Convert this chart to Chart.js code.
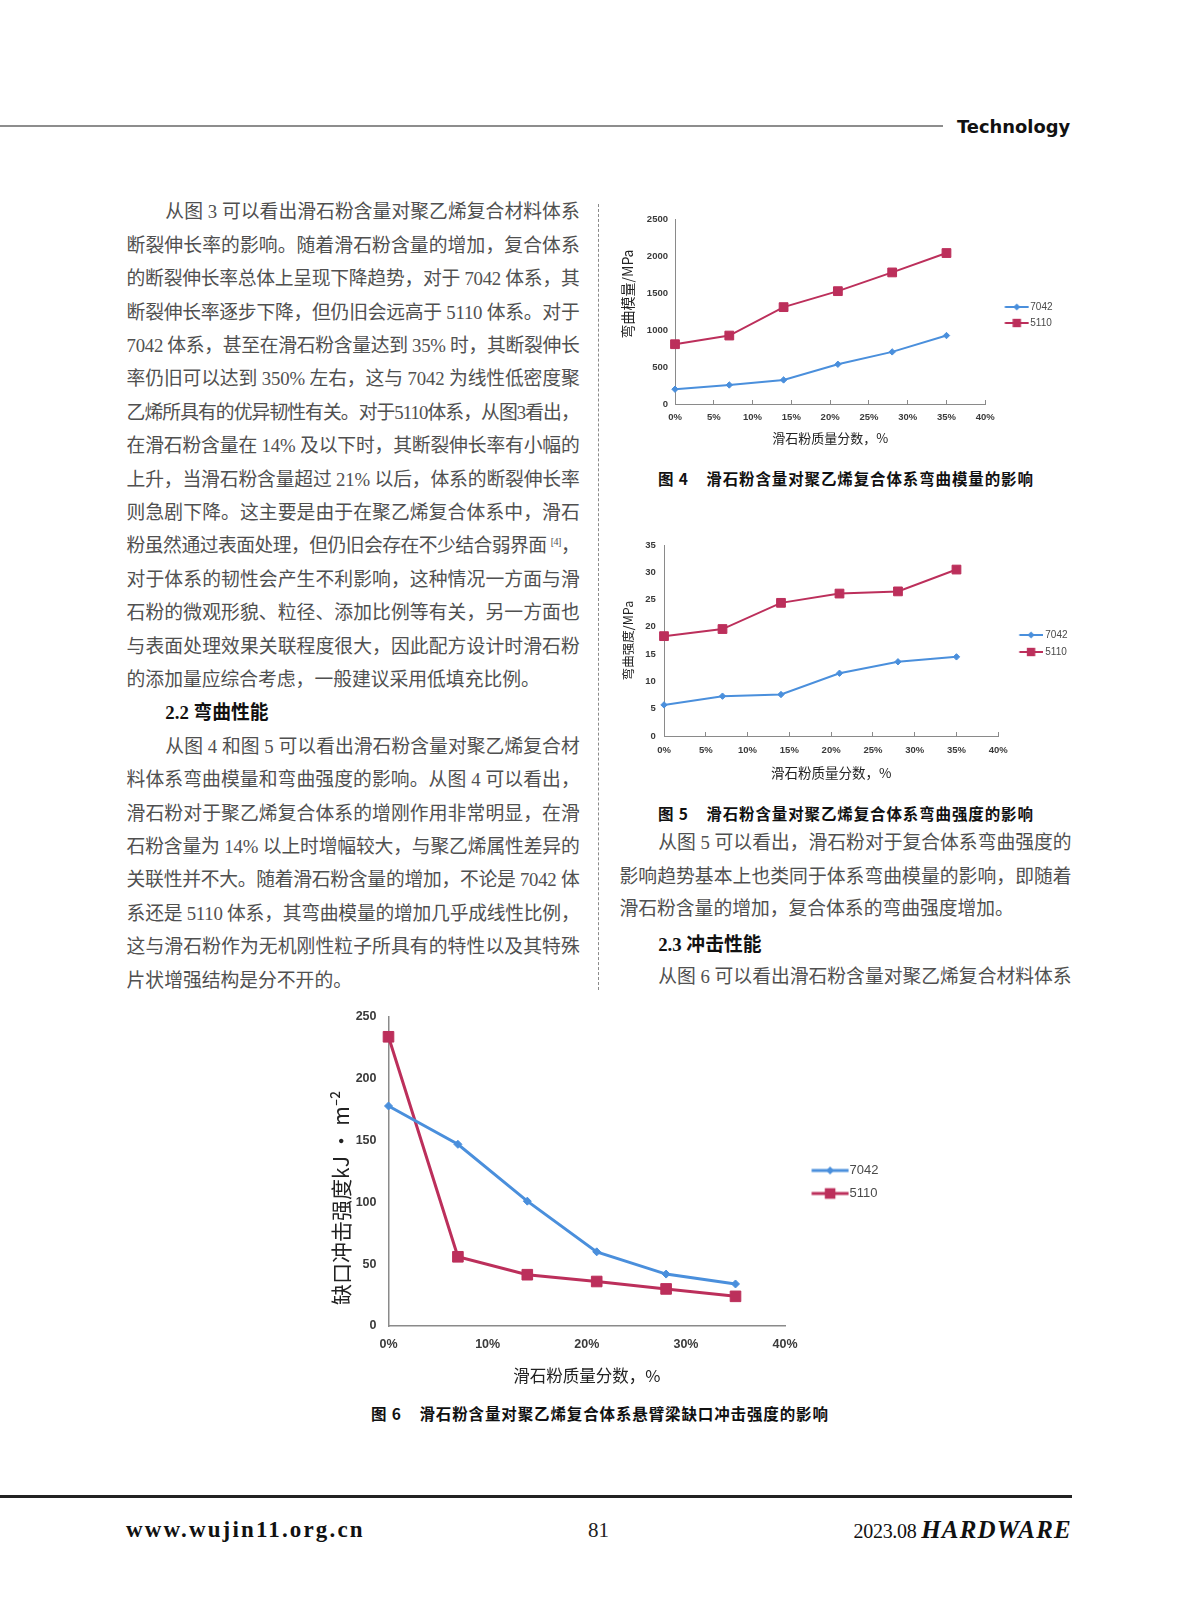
<!DOCTYPE html>
<html><head><meta charset="utf-8">
<script src="https://cdn.jsdelivr.net/npm/chart.js@4.4.0/dist/chart.umd.min.js"></script>
<style>
html,body{margin:0;padding:0;background:#fff;}
#page{position:relative;width:1187px;height:1600px;overflow:hidden;background:#fff;}
.ln{position:absolute;height:26px;line-height:26px;white-space:nowrap;font-family:"Liberation Serif","Noto Sans CJK SC",serif;font-size:18.8px;color:#505050;}
.ln span{display:inline-block;white-space:nowrap;}
.ln sup{font-size:10px;line-height:0;vertical-align:7px;}
.head{font-weight:bold;color:#111;}
.cap{position:absolute;height:22px;line-height:22px;white-space:nowrap;font-family:"Noto Sans CJK SC",sans-serif;font-weight:bold;font-size:15.5px;color:#111;}
canvas{position:absolute;}
</style></head>
<body><div id="page">
<div style="position:absolute;left:0;top:125px;width:943px;height:2px;background:#8d8d8d;"></div>
<div style="position:absolute;left:957px;top:114px;height:26px;line-height:26px;font-family:'DejaVu Sans';font-weight:bold;font-size:17.9px;color:#111;">Technology</div>
<div style="position:absolute;left:598px;top:204px;height:786px;border-left:1px dashed #8a8a8a;"></div>
<div id="textLayer"></div>
<canvas id="c4" width="465" height="250" style="left:610px;top:205px;"></canvas>
<canvas id="c5" width="470" height="260" style="left:610px;top:530px;"></canvas>
<canvas id="c6" width="600" height="400" style="left:310px;top:990px;"></canvas>
<div class="cap" id="cap4" style="left:658px;top:467px;"><span>图 4&nbsp;&nbsp;&nbsp;&nbsp;滑石粉含量对聚乙烯复合体系弯曲模量的影响</span></div>
<div class="cap" id="cap5" style="left:658px;top:802px;"><span>图 5&nbsp;&nbsp;&nbsp;&nbsp;滑石粉含量对聚乙烯复合体系弯曲强度的影响</span></div>
<div class="cap" id="cap6" style="left:371px;top:1402px;"><span>图 6&nbsp;&nbsp;&nbsp;&nbsp;滑石粉含量对聚乙烯复合体系悬臂梁缺口冲击强度的影响</span></div>
<div style="position:absolute;left:0;top:1495px;width:1072px;height:3px;background:#222;"></div>
<div style="position:absolute;left:126px;top:1515px;height:30px;line-height:30px;font-family:'Liberation Serif';font-weight:bold;font-size:23px;letter-spacing:2.15px;color:#111;">www.wujin11.org.cn</div>
<div style="position:absolute;left:588px;top:1515px;height:30px;line-height:30px;font-family:'Liberation Serif';font-size:21px;color:#222;">81</div>
<div style="position:absolute;right:115px;top:1515px;height:30px;line-height:30px;font-family:'Liberation Serif';color:#111;white-space:nowrap;"><span style="font-size:20px;letter-spacing:-0.3px;">2023.08 </span><span style="font-size:25px;font-weight:bold;font-style:italic;letter-spacing:1.2px;">HARDWARE</span></div>
</div>
<script>
// ---------------- data ----------------
const xPercent = [0, 7, 14, 21, 28, 35];
const seriesNames = ['7042', '5110'];
const modulus7042 = [200, 257, 325, 537, 704, 925];
const modulus5110 = [808, 925, 1309, 1525, 1778, 2040];
const strength7042 = [5.7, 7.3, 7.6, 11.5, 13.6, 14.5];
const strength5110 = [18.3, 19.6, 24.4, 26.1, 26.5, 30.5];
const impact7042 = [178, 147, 101, 60, 42, 34];
const impact5110 = [234, 56, 41.5, 36, 30, 24];

// ---------------- text ----------------
const leftLines = [
 ['从图 3 可以看出滑石粉含量对聚乙烯复合材料体系','i'],
 ['断裂伸长率的影响。随着滑石粉含量的增加，复合体系',''],
 ['的断裂伸长率总体上呈现下降趋势，对于 7042 体系，其',''],
 ['断裂伸长率逐步下降，但仍旧会远高于 5110 体系。对于',''],
 ['7042 体系，甚至在滑石粉含量达到 35% 时，其断裂伸长',''],
 ['率仍旧可以达到 350% 左右，这与 7042 为线性低密度聚',''],
 ['乙烯所具有的优异韧性有关。对于5110体系，从图3看出，',''],
 ['在滑石粉含量在 14% 及以下时，其断裂伸长率有小幅的',''],
 ['上升，当滑石粉含量超过 21% 以后，体系的断裂伸长率',''],
 ['则急剧下降。这主要是由于在聚乙烯复合体系中，滑石',''],
 ['粉虽然通过表面处理，但仍旧会存在不少结合弱界面 <sup>[4]</sup>，','h'],
 ['对于体系的韧性会产生不利影响，这种情况一方面与滑',''],
 ['石粉的微观形貌、粒径、添加比例等有关，另一方面也',''],
 ['与表面处理效果关联程度很大，因此配方设计时滑石粉',''],
 ['的添加量应综合考虑，一般建议采用低填充比例。','l'],
 ['2.2 弯曲性能','H'],
 ['从图 4 和图 5 可以看出滑石粉含量对聚乙烯复合材','i'],
 ['料体系弯曲模量和弯曲强度的影响。从图 4 可以看出，',''],
 ['滑石粉对于聚乙烯复合体系的增刚作用非常明显，在滑',''],
 ['石粉含量为 14% 以上时增幅较大，与聚乙烯属性差异的',''],
 ['关联性并不大。随着滑石粉含量的增加，不论是 7042 体',''],
 ['系还是 5110 体系，其弯曲模量的增加几乎成线性比例，',''],
 ['这与滑石粉作为无机刚性粒子所具有的特性以及其特殊',''],
 ['片状增强结构是分不开的。','l']
];
const rightLines = [
 ['从图 5 可以看出，滑石粉对于复合体系弯曲强度的','i',843],
 ['影响趋势基本上也类同于体系弯曲模量的影响，即随着','',876.7],
 ['滑石粉含量的增加，复合体系的弯曲强度增加。','l',909.4],
 ['2.3 冲击性能','H',945],
 ['从图 6 可以看出滑石粉含量对聚乙烯复合材料体系','i',976.7]
];
const layer = document.getElementById('textLayer');
function fitSpan(span, target){
  span.style.letterSpacing='0px';
  const w = span.getBoundingClientRect().width;
  const n = [...span.textContent].length;
  if (n>1) span.style.letterSpacing = ((target - w)/(n-1))+'px';
}
function addLine(txt, kind, colLeft, colRight, cy){
  const d = document.createElement('div');
  d.className = 'ln' + (kind==='H' ? ' head':'');
  const indent = (kind==='i'||kind==='H') ? 38.7 : 0;
  d.style.left = (colLeft+indent)+'px';
  d.style.top = (cy-13)+'px';
  const s = document.createElement('span');
  s.innerHTML = txt;
  d.appendChild(s);
  layer.appendChild(d);
  if (kind!=='l' && kind!=='H') fitSpan(s, colRight-colLeft-indent);
}
leftLines.forEach((l,i)=>addLine(l[0], l[1], 126.6, 579.7, 212.3+33.4*i));
rightLines.forEach(l=>addLine(l[0], l[1], 619.5, 1071.6, l[2]));
fitSpan(document.querySelector('#cap4 span'), 375);
fitSpan(document.querySelector('#cap5 span'), 375);
fitSpan(document.querySelector('#cap6 span'), 457);

// ---------------- charts ----------------
const BLUE = '#4a8fdc', RED = '#bc2f5b', AXIS = '#8a8a8a', TICK = '#3a3a3a';
const measureCtx = document.createElement('canvas').getContext('2d');
function textW(str, size){ measureCtx.font = size + 'px Liberation Sans'; return measureCtx.measureText(str).width; }
function pts(ys){ return xPercent.map((x,i)=>({x:x, y:ys[i]})); }
function makeIcon(color, shape, lw, r, a, b){
  const half = Math.ceil(Math.max(Math.abs(a), Math.abs(b)));
  const c = document.createElement('canvas');
  c.width = half*2; c.height = 18;
  const g = c.getContext('2d');
  const cx = half, cy = 9;
  g.strokeStyle = color; g.fillStyle = color; g.lineWidth = lw;
  g.beginPath(); g.moveTo(cx+a, cy); g.lineTo(cx+b, cy); g.stroke();
  const m = cx + (a+b)/2;
  g.beginPath();
  if (shape==='rectRot'){ g.moveTo(m, cy-r); g.lineTo(m+r, cy); g.lineTo(m, cy+r); g.lineTo(m-r, cy); g.closePath(); }
  else { g.rect(m-r, cy-r, 2*r, 2*r); }
  g.fill();
  return c;
}
function build(id, o){
  const C = o.areaRight + o.legPad + o.bw/2;
  const icons = [
    makeIcon(BLUE,'rectRot',o.lw,o.legDiamond,o.lineA-C,o.lineB-C),
    makeIcon(RED,'rect',o.lw,o.legSquare,o.lineA-C,o.lineB-C)
  ];
  const W = document.getElementById(id).width;
  const tw = Math.max(...seriesNames.map(s=>textW(s, o.legFont)));
  const legW = Math.ceil(o.legPad + o.bw + o.legFont/2 + tw + 10) + 1;
  return new Chart(document.getElementById(id), {
    type:'line',
    data:{datasets:[
      {label:seriesNames[0], data:pts(o.s1), borderColor:BLUE, backgroundColor:BLUE, borderWidth:o.lw,
       pointStyle:'rectRot', pointRadius:o.rDiamond, pointBorderWidth:1, pointBackgroundColor:BLUE, pointBorderColor:BLUE, tension:0, clip:false},
      {label:seriesNames[1], data:pts(o.s2), borderColor:RED, backgroundColor:RED, borderWidth:o.lw,
       pointStyle:'rect', pointRadius:o.rSquare, pointBorderWidth:1, pointBackgroundColor:RED, pointBorderColor:RED, tension:0, clip:false}
    ]},
    options:{
      responsive:false, animation:false, devicePixelRatio:1,
      layout:{padding:{top:o.areaTop, left:0, right:W-o.areaRight-legW, bottom:0}},
      plugins:{
        tooltip:{enabled:false},
        legend:{position:'right', fullSize:false, maxWidth:legW, align:'center',
          title:{display:true, text:' ', font:{size:o.legTitle, lineHeight:1}, padding:0},
          labels:{usePointStyle:true, pointStyleWidth:o.bw, padding:o.legPad,
            font:{family:'Liberation Sans', size:o.legFont}, color:'#4a4a4a',
            generateLabels:(chart)=>{
              const items = Chart.defaults.plugins.legend.labels.generateLabels(chart);
              items.forEach((it,i)=>{ it.pointStyle = icons[i]; });
              return items;
            }}
        }
      },
      scales:{
        x:{type:'linear', min:0, max:40,
          afterFit:(s)=>{ s.height = o.xH; },
          ticks:{stepSize:o.xStep, autoSkip:false, maxRotation:0, callback:(v)=>v+'%',
            font:{family:'Liberation Sans', weight:'bold', size:o.tickFont}, color:TICK, padding:o.xPad},
          grid:{display:true, drawOnChartArea:false, drawTicks:o.xTicks, tickLength:-4, tickColor:AXIS, tickWidth:1},
          border:{display:true, color:AXIS, width:o.axisW},
          title:{display:true, text:'滑石粉质量分数，%', color:'#222',
            font:{family:'Noto Sans CJK SC', size:o.xTitleFont, lineHeight:1.2}, padding:{top:0, bottom:o.xTitlePad}}
        },
        y:{min:0, max:o.yMax,
          afterFit:(s)=>{ s.width = o.areaLeft; },
          ticks:{stepSize:o.yStep, callback:(v)=>String(v), font:{family:'Liberation Sans', weight:'bold', size:o.tickFont}, color:TICK, padding:o.yPad},
          grid:{display:false, drawTicks:false},
          border:{display:true, color:AXIS, width:o.axisW},
          title:{display:true, text:o.yTitle, color:'#222',
            font:{family:'Noto Sans CJK SC', size:o.yTitleFont, lineHeight:1.2}, padding:{top:o.yTitlePad, bottom:0}}
        }
      }
    }
  });
}
build('c4', {s1:modulus7042, s2:modulus5110, yMax:2500, yStep:500, xStep:5, yTitle:'\u3000\u3000\u2002弯曲模量/MPa',
  areaLeft:65, areaRight:373.5, areaTop:14, xH:51, legPad:6, bw:34, legFont:10, legTitle:7,
  lineA:393, lineB:417, legDiamond:3.5, legSquare:4.2, lw:2, rDiamond:3.2, rSquare:6.2,
  tickFont:9.5, xPad:11.3, yPad:7, xTicks:true, axisW:1, xTitleFont:13, xTitlePad:9.2, yTitleFont:14, yTitlePad:9.6});
build('c5', {s1:strength7042, s2:strength5110, yMax:35, yStep:5, xStep:5, yTitle:'弯曲强度/MPa',
  areaLeft:54, areaRight:386.5, areaTop:15, xH:54, legPad:7, bw:35, legFont:10, legTitle:6,
  lineA:407.5, lineB:431, legDiamond:3.5, legSquare:4.2, lw:2, rDiamond:3.2, rSquare:6.2,
  tickFont:9.5, xPad:13, yPad:8.3, xTicks:true, axisW:1, xTitleFont:13.5, xTitlePad:9.5, yTitleFont:12.5, yTitlePad:10.5});
build('c6', {s1:impact7042, s2:impact5110, yMax:250, yStep:50, xStep:10, yTitle:'缺口冲击强度kJ · m⁻²\u3000\u3000\u2002',
  areaLeft:78.5, areaRight:473.5, areaTop:27, xH:64, legPad:10, bw:48, legFont:13, legTitle:21,
  lineA:500, lineB:537, legDiamond:4, legSquare:5.3, lw:3, rDiamond:4, rSquare:7.5,
  tickFont:12.5, xPad:11.5, yPad:12, xTicks:false, axisW:1.5, xTitleFont:16.5, xTitlePad:4, yTitleFont:21, yTitlePad:18.9});
</script>
</body></html>
